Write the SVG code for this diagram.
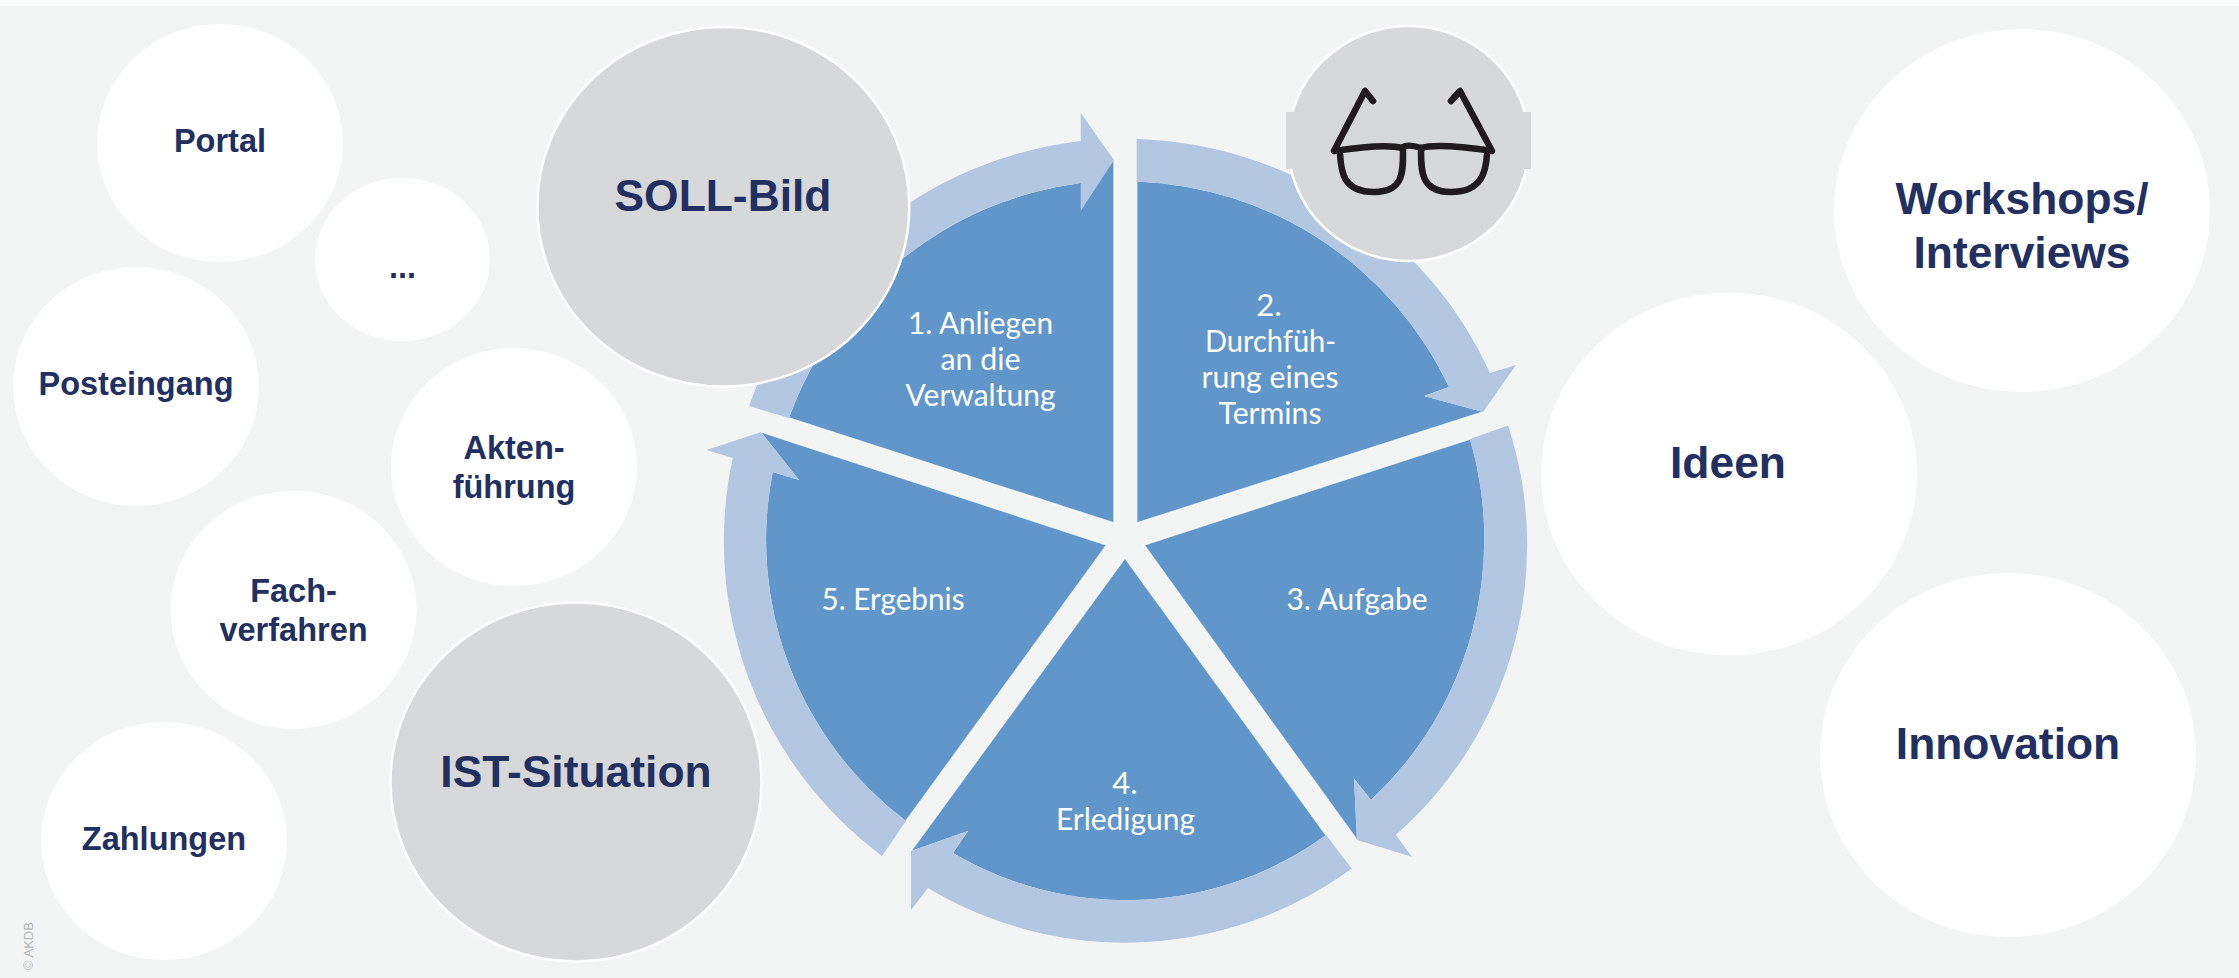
<svg xmlns="http://www.w3.org/2000/svg" width="2239" height="978" viewBox="0 0 2239 978">
<style>
.w{fill:#fff}
.g{fill:#d7d8da;stroke:#fff;stroke-width:2.5}
.dark{fill:#6096ca}
.light{fill:#b3c7e3}
.edge{fill:none;stroke:#fff;stroke-width:1.5;stroke-opacity:.75}
.t{font-family:"Liberation Sans",Arial,sans-serif;font-weight:700;fill:#213061;text-anchor:middle}
.s{font-size:32.5px}
.b{font-size:44.4px}
.c{font-family:Lato,"Open Sans",sans-serif;font-size:31px;fill:#fff;text-anchor:middle}
.gl{fill:none;stroke:#1f1a1c;stroke-width:6.5;stroke-linecap:round;stroke-linejoin:round}
</style>
<rect x="0" y="0" width="2239" height="978" fill="#f3f5f4"/>
<rect x="0" y="0" width="2239" height="6" fill="#fff"/>
<g id="node-portal"><ellipse class="w" cx="220" cy="143" rx="123" ry="119"/><text class="t s" x="220" y="152">Portal</text></g>
<g id="node-more"><ellipse class="w" cx="402.5" cy="259.5" rx="87.5" ry="81.7"/><text class="t s" x="402.5" y="278">...</text></g>
<g id="node-posteingang"><ellipse class="w" cx="136" cy="386.5" rx="123" ry="119.5"/><text class="t s" x="136" y="395">Posteingang</text></g>
<g id="node-aktenfuehrung"><ellipse class="w" cx="514" cy="467" rx="123" ry="119"/><text class="t s" x="514" y="458.5">Akten-</text><text class="t s" x="514" y="497.5">führung</text></g>
<g id="node-fachverfahren"><ellipse class="w" cx="293.5" cy="609.7" rx="123" ry="119"/><text class="t s" x="293.5" y="601.5">Fach-</text><text class="t s" x="293.5" y="641">verfahren</text></g>
<g id="node-zahlungen"><ellipse class="w" cx="164" cy="841" rx="123" ry="119"/><text class="t s" x="164" y="849.5">Zahlungen</text></g>
<g id="node-workshops"><ellipse class="w" cx="2022" cy="210.5" rx="188" ry="181.5"/><text class="t b" x="2022" y="214">Workshops/</text><text class="t b" x="2022" y="268">Interviews</text></g>
<g id="node-ideen"><ellipse class="w" cx="1729" cy="474" rx="188" ry="181.5"/><text class="t b" x="1728" y="478">Ideen</text></g>
<g id="node-innovation"><ellipse class="w" cx="2008" cy="755" rx="188" ry="182"/><text class="t b" x="2008" y="759">Innovation</text></g>

<g id="node-step1">
<path class="dark" d="M789,418 A359,359 0 0 1 1080.7,183 L1114,161 L1114,523 Z"/>
<path class="edge" d="M789,418 L1114,523 L1114,161"/>
<text class="c" x="980.5" y="334" textLength="145" lengthAdjust="spacingAndGlyphs">1. Anliegen</text>
<text class="c" x="980.5" y="370" textLength="80" lengthAdjust="spacingAndGlyphs">an die</text>
<text class="c" x="980.5" y="406" textLength="150" lengthAdjust="spacingAndGlyphs">Verwaltung</text>
</g>
<g id="node-step2">
<path class="dark" d="M1136.7,181.6 A359,359 0 0 1 1449,387 L1424,396 L1483,412 L1136.7,523 Z"/>
<path class="edge" d="M1136.7,181.6 L1136.7,523 L1483,412"/>
<text class="c" x="1269" y="316">2.</text>
<text class="c" x="1270.5" y="352" textLength="131" lengthAdjust="spacingAndGlyphs">Durchfüh-</text>
<text class="c" x="1270" y="388" textLength="137" lengthAdjust="spacingAndGlyphs">rung eines</text>
<text class="c" x="1270" y="424" textLength="103" lengthAdjust="spacingAndGlyphs">Termins</text>
</g>
<g id="node-step3">
<path class="dark" d="M1144,545 L1470,439 A357,357 0 0 1 1371,800 L1354,778.6 L1357,840 Z"/>
<path class="edge" d="M1470,439 L1144,545 L1357,840"/>
<text class="c" x="1357" y="610" textLength="141" lengthAdjust="spacingAndGlyphs">3. Aufgabe</text>
</g>
<g id="node-step4">
<path class="dark" d="M1125,558 L1326,835 A340,340 0 0 1 953,853 L968,831 L911,851 Z"/>
<path class="edge" d="M1326,835 L1125,558 L911,851"/>
<text class="c" x="1125" y="794">4.</text>
<text class="c" x="1125.5" y="830" textLength="139" lengthAdjust="spacingAndGlyphs">Erledigung</text>
</g>
<g id="node-step5">
<path class="dark" d="M1106.7,545 L906,821 A352,352 0 0 1 772.7,472 L799,480 L761,432 Z"/>
<path class="edge" d="M906,821 L1106.7,545 L761,432"/>
<text class="c" x="893" y="610" textLength="143" lengthAdjust="spacingAndGlyphs">5. Ergebnis</text>
</g>

<g id="connectors">
<path class="light" d="M749,406 A402,402 0 0 1 1080.7,141 L1080.7,113 L1114,160 L1080.7,211 L1080.7,183 A359,359 0 0 0 789,418 Z"/>
<path class="light" d="M1136.7,139 A402,402 0 0 1 1490,373 L1516,365 L1483,412 L1424,396 L1449,387 A359,359 0 0 0 1136.7,181.6 Z"/>
<path class="light" d="M1508,425.4 A385,385 0 0 1 1396,834.7 L1411.7,856.8 L1357,840 L1354,778.6 L1371,800 A357,357 0 0 0 1470,439 Z"/>
<path class="light" d="M1351.7,868.5 A383,383 0 0 1 928,888 L911,910 L911,851 L968,831 L953,853 A340,340 0 0 0 1326,835 Z"/>
<path class="light" d="M882,856 A393,393 0 0 1 732.7,458 L706.7,450 L761,432 L799,480 L772.7,472 A352,352 0 0 0 906,821 Z"/>
</g>

<g id="node-soll"><ellipse class="g" cx="723.3" cy="206.7" rx="186" ry="179.8"/><text class="t b" x="723" y="211">SOLL-Bild</text></g>
<g id="node-ist"><ellipse class="g" cx="576" cy="782" rx="185.5" ry="179.5"/><text class="t b" x="576" y="787">IST-Situation</text></g>
<g id="node-glasses">
<ellipse class="g" cx="1408.5" cy="143.5" rx="120.5" ry="117.5"/>
<rect x="1286" y="112" width="245" height="57" fill="#d7d8da"/>
<path class="gl" d="M1373,101 L1365,91 L1334,151 C1380,144 1395,146 1402,148 C1405,145 1412,145 1421,148 C1428,146 1445,144 1492,151 L1460,91 L1451,101"/>
<path class="gl" d="M1340,154 C1341,170 1342,192 1374,192 C1405,192 1403,170 1403,148"/>
<path class="gl" d="M1421,148 C1421,170 1420,192 1451,192 C1483,192 1486,170 1487,154"/>
</g>
<text x="33" y="970" transform="rotate(-90 33 970)" font-family="Liberation Sans,Arial,sans-serif" font-size="13" fill="#b4b8b8">© AKDB</text>
</svg>
